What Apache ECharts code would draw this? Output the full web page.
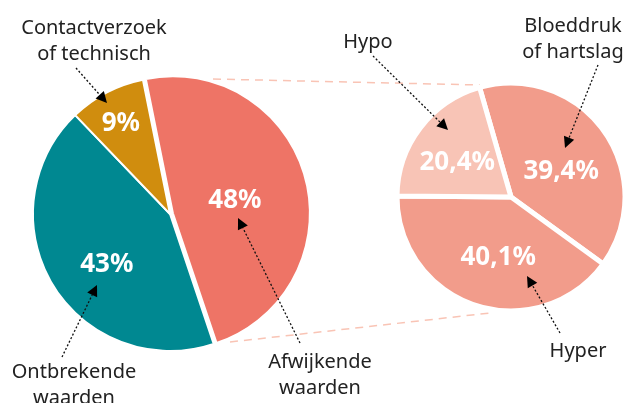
<!DOCTYPE html>
<html>
<head>
<meta charset="utf-8">
<script src="https://cdn.jsdelivr.net/npm/echarts@6/dist/echarts.min.js"></script>
<style>html,body{margin:0;padding:0;background:#fff}#c{width:630px;height:403px}</style>
</head>
<body>
<div id="c"></div>
<script>
// ---- data ----
const leftCategories = ['Afwijkende waarden', 'Ontbrekende waarden', 'Contactverzoek of technisch'];
const leftValues = [48, 43, 9];
const rightCategories = ['Bloeddruk of hartslag', 'Hyper', 'Hypo'];
const rightValues = [39.4, 40.1, 20.4];

// ---- style / layout ----
const leftColors = ['#EE7466', '#008891', '#D08D0E'];
const rightColors = ['#F29C8B', '#F29C8B', '#F8C4B6'];
const L = { cx: 170, cy: 214, r: 137, start: 101.4 };
const R = { cx: 511, cy: 197, r: 114, start: 106 };
const leftLabelShift = [[-7, 6], [-2, 14], [-16, -27]];
const rightLabelShift = [[1, 9], [6, 4], [-6, 2]];

const annotations = [
  { text: 'Contactverzoek\nof technisch', x: 94, y: 41, from: [76, 68], tip: [107, 103] },
  { text: 'Ontbrekende\nwaarden', x: 74, y: 385, from: [62, 357], tip: [97, 285] },
  { text: 'Afwijkende\nwaarden', x: 320, y: 375, from: [300, 343], tip: [238, 218] },
  { text: 'Hypo', x: 368, y: 42, from: [373, 56], tip: [448, 130] },
  { text: 'Bloeddruk\nof hartslag', x: 573, y: 39, from: [598, 65], tip: [565, 148] },
  { text: 'Hyper', x: 578, y: 351, from: [560, 333], tip: [527, 276] }
];
const connectors = [
  [[213, 79], [480, 85]],
  [[230, 342], [490, 313]]
];

const graphics = [];
connectors.forEach(c => {
  graphics.push({ type: 'line', silent: true, z: 1,
    shape: { x1: c[0][0], y1: c[0][1], x2: c[1][0], y2: c[1][1] },
    style: { stroke: '#F9C4B5', lineWidth: 1.5, lineDash: [8, 6] } });
});
annotations.forEach(a => {
  graphics.push({ type: 'text', z: 10, style: {
    text: a.text, x: a.x, y: a.y, align: 'center', verticalAlign: 'middle',
    fontFamily: 'Noto Sans', fontSize: 20, lineHeight: 26, fill: '#222' } });
  const dx = a.tip[0] - a.from[0], dy = a.tip[1] - a.from[1];
  const len = Math.hypot(dx, dy), ux = dx / len, uy = dy / len;
  const bx = a.tip[0] - ux * 11, by = a.tip[1] - uy * 11;
  graphics.push({ type: 'line', z: 10, shape: { x1: a.from[0], y1: a.from[1], x2: bx, y2: by },
    style: { stroke: '#111', lineWidth: 1.3, lineDash: [2, 2] } });
  graphics.push({ type: 'polygon', z: 10, shape: { points: [
    [a.tip[0], a.tip[1]], [bx - uy * 5.5, by + ux * 5.5], [bx + uy * 5.5, by - ux * 5.5]] },
    style: { fill: '#000' } });
});

const labelStyle = { show: true, position: 'inside', color: '#fff', fontFamily: 'Noto Sans',
  fontWeight: 'bold', fontSize: 26 };

const chart = echarts.init(document.getElementById('c'), null, { renderer: 'canvas' });
chart.setOption({
  animation: false,
  backgroundColor: '#fff',
  graphic: graphics,
  series: [
    {
      type: 'pie', center: [L.cx, L.cy], radius: [0, L.r], startAngle: L.start,
      clockwise: true, silent: true, selectedMode: 'single', selectedOffset: 3,
      itemStyle: { borderColor: '#fff', borderWidth: 2 },
      label: Object.assign({}, labelStyle, { formatter: p => p.value + '%' }),
      labelLine: { show: false },
      labelLayout: p => ({ dx: leftLabelShift[p.dataIndex][0], dy: leftLabelShift[p.dataIndex][1] }),
      data: leftCategories.map((n, i) => ({ name: n, value: leftValues[i], selected: i === 0,
        itemStyle: { color: leftColors[i] } }))
    },
    {
      type: 'pie', center: [R.cx, R.cy], radius: [0, R.r], startAngle: R.start,
      clockwise: true, silent: true,
      itemStyle: { borderColor: '#fff', borderWidth: 5 },
      label: Object.assign({}, labelStyle, { formatter: p => p.value.toFixed(1).replace('.', ',') + '%' }),
      labelLine: { show: false },
      labelLayout: p => ({ dx: rightLabelShift[p.dataIndex][0], dy: rightLabelShift[p.dataIndex][1] }),
      data: rightCategories.map((n, i) => ({ name: n, value: rightValues[i],
        itemStyle: { color: rightColors[i] } }))
    }
  ]
});
</script>
</body>
</html>
